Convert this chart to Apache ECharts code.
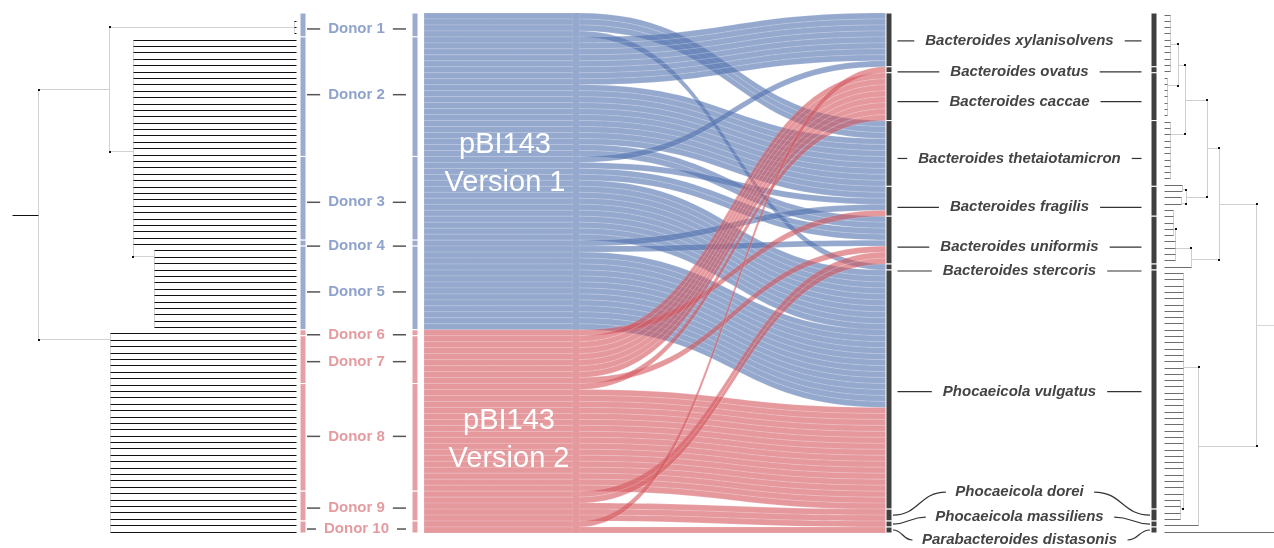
<!DOCTYPE html>
<html>
<head>
<meta charset="utf-8">
<title>pBI143 donors and hosts</title>
<script src="https://cdn.jsdelivr.net/npm/echarts@6/dist/echarts.min.js"></script>
<style>
  html, body { margin: 0; padding: 0; background: #fff; }
  #chart { width: 1274px; height: 548px; }
</style>
</head>
<body>
<div id="chart"></div>
<script>
// ---- data ----
const donors = ["Donor 1", "Donor 2", "Donor 3", "Donor 4", "Donor 5",
                "Donor 6", "Donor 7", "Donor 8", "Donor 9", "Donor 10"];
const donorVersion = [1, 1, 1, 1, 1, 2, 2, 2, 2, 2];
const donorStrains = [4, 20, 14, 1, 14, 1, 8, 18, 5, 2];
const donorLabelShift = [4, -2, 4, 3, 4, 2, 2, -1, 2, 2];

const species = [
  "Bacteroides xylanisolvens", "Bacteroides ovatus", "Bacteroides caccae",
  "Bacteroides thetaiotamicron", "Bacteroides fragilis", "Bacteroides uniformis",
  "Bacteroides stercoris", "Phocaeicola vulgatus", "Phocaeicola dorei",
  "Phocaeicola massiliens", "Parabacteroides distasonis"
];
const speciesStrains = [9, 1, 8, 11, 5, 8, 1, 40, 2, 1, 1];
// the bottom three labels sit off their bar, joined by a curved leader
const speciesLabelShift = [1, 2, 5, 5, 6, 7, 4, 2, -23, -7, 10];
const detachedLabel = [false, false, false, false, false, false, false, false, true, true, true];

// [donor index, species index, strains]
const flows = [
  [0, 3, 3], [0, 6, 1],
  [1, 0, 8], [1, 3, 8], [1, 4, 2], [1, 5, 2],
  [2, 0, 1], [2, 4, 1], [2, 5, 2], [2, 7, 10],
  [3, 4, 1],
  [4, 5, 1], [4, 7, 13],
  [5, 4, 1],
  [6, 2, 7], [6, 5, 1],
  [7, 2, 1], [7, 7, 17],
  [8, 5, 2], [8, 8, 2], [8, 9, 1],
  [9, 1, 1], [9, 10, 1]
];

const versionText = ["pBI143\nVersion 1", "pBI143\nVersion 2"];

// dendrograms: [distance, parent, firstLeaf, lastLeaf, attachLeafPos]
// parent -1 marks the (undrawn) edge of the picture
const leftTree = [
  [1.105, -1, -1, -1, 30.4],
  [1.0, 0, -1, -1, 30.4],
  [0.724, 1, -1, -1, 10.8],
  [0.004, 2, 0, 2, 1],
  [0.634, 2, 3, 35, 20.5],
  [0.549, 4, 36, 48, 36.9],
  [0.722, 1, 49, 80, 49.9]
];
const leftLeaves = 81;

const rightTree = [
  [1.183, -1, 82, 82, 49.2],
  [1.0, 0, -1, -1, 49.2],
  [0.595, 1, -1, -1, 30.0],
  [0.466, 2, -1, -1, 21.1],
  [0.229, 3, -1, -1, 13.5],
  [0.154, 4, -1, -1, 8.0],
  [0.068, 5, 0, 9, 4.65],
  [0.035, 5, 10, 16, 11.2],
  [0.068, 4, 17, 26, 18.9],
  [0.239, 3, -1, -1, 28.9],
  [0.194, 9, 27, 28, 27.7],
  [0.186, 9, 29, 30, 29.9],
  [0.294, 2, 40, 40, 38.8],
  [0.129, 12, 36, 39, 37.0],
  [0.100, 13, 31, 35, 34.0],
  [0.373, 1, 81, 81, 68.4],
  [0.207, 15, 41, 76, 55.9],
  [0.180, 16, 77, 80, 78.3]
];
const rightLeaves = 83;

// ---- styling ----
const FONT = '"Liberation Sans", Arial, sans-serif';
const ribbonColor = ["#4f6fad", "#d4555c"];
const barColor = ["#9aabcf", "#e4a1a5"];
const donorTextColor = ["#8fa3cc", "#e49ca0"];

const SK_LEFT = 300, SK_WIDTH = 857, SK_TOP = 13, SK_HEIGHT = 520, NODE_W = 6;
const colX = { A: 300, B: 412, C: 418, D: 573, E: 886, F: 1151 };
const lx = (x) => (x - SK_LEFT) / SK_WIDTH;
const SPECIES_LABEL_X = 1020;

const ctx = document.createElement("canvas").getContext("2d");
function textWidth(str, font) {
  ctx.font = font;
  return ctx.measureText(str).width;
}

// ---- sankey nodes and links ----
const nodes = [];
const links = [];
const barStyle = (color) => ({ color: color, borderColor: "#fff", borderWidth: 1 });

donors.forEach((name, i) => {
  const v = donorVersion[i] - 1;
  const tw = textWidth(name, "bold 15px " + FONT);
  const dash = Math.max(4, (99 - tw - 16) / 2);
  nodes.push({
    name: "A" + i, localX: lx(colX.A),
    itemStyle: barStyle(barColor[v]),
    label: {
      show: true, position: [57, "50%"], align: "center", verticalAlign: "middle",
      offset: [0, donorLabelShift[i]],
      formatter: "{l|}{t|" + name + "}{r|}",
      rich: {
        l: { width: dash, height: 1.5, backgroundColor: "#555" },
        r: { width: dash, height: 1.5, backgroundColor: "#555" },
        t: { color: donorTextColor[v], fontWeight: "bold", fontSize: 15, fontFamily: FONT, padding: [0, 8] }
      }
    }
  });
  nodes.push({ name: "B" + i, localX: lx(colX.B), itemStyle: barStyle(barColor[v]) });
  nodes.push({ name: "C" + i, localX: lx(colX.C), itemStyle: { opacity: 0 } });
  nodes.push({ name: "D" + i, localX: lx(colX.D), itemStyle: { color: ribbonColor[v], opacity: 0.6 } });

  links.push({ source: "A" + i, target: "B" + i, value: donorStrains[i], lineStyle: { opacity: 0 } });
  links.push({ source: "B" + i, target: "C" + i, value: donorStrains[i], lineStyle: { opacity: 0 } });
  for (let k = 0; k < donorStrains[i]; k++) {
    links.push({ source: "C" + i, target: "D" + i, value: 1,
      lineStyle: { color: ribbonColor[v], opacity: 0.6 } });
  }
});

// leader curves for labels that are moved off their bar
const total = speciesStrains.reduce((a, b) => a + b, 0);
const ky = SK_HEIGHT / total;
const leaders = [];
let acc = 0;

species.forEach((name, s) => {
  const tw = textWidth(name, "italic bold 15px " + FONT);
  const detached = detachedLabel[s];
  const dash = Math.max(4, (244 - tw - 22) / 2);
  const nodeY = SK_TOP + (acc + speciesStrains[s] / 2) * ky;
  acc += speciesStrains[s];
  if (detached) {
    const ly = nodeY + speciesLabelShift[s];
    const x0 = colX.E + NODE_W + 1, x1 = SPECIES_LABEL_X - tw / 2 - 10;
    const x3 = colX.F - 1, x2 = SPECIES_LABEL_X + tw / 2 + 10;
    leaders.push({ a: [x0, nodeY], b: [x1, ly] }, { a: [x3, nodeY], b: [x2, ly] });
  }
  nodes.push({
    name: "E" + s, localX: lx(colX.E),
    itemStyle: barStyle("#404040"),
    label: {
      show: true, position: [SPECIES_LABEL_X - colX.E, "50%"], align: "center", verticalAlign: "middle",
      offset: [0, speciesLabelShift[s]],
      formatter: detached ? "{t|" + name + "}" : "{l|}{t|" + name + "}{r|}",
      rich: {
        l: { width: dash, height: 1.2, backgroundColor: "#333" },
        r: { width: dash, height: 1.2, backgroundColor: "#333" },
        t: { color: "#444", fontStyle: "italic", fontWeight: "bold", fontSize: 15, fontFamily: FONT, padding: [0, 11] }
      }
    }
  });
  nodes.push({ name: "F" + s, localX: lx(colX.F), itemStyle: barStyle("#404040") });
  links.push({ source: "E" + s, target: "F" + s, value: speciesStrains[s], lineStyle: { opacity: 0 } });
});

flows.forEach(([d, s, n]) => {
  const v = donorVersion[d] - 1;
  for (let k = 0; k < n; k++) {
    links.push({ source: "D" + d, target: "E" + s, value: 1,
      lineStyle: { color: ribbonColor[v], opacity: 0.6 } });
  }
});

// ---- dendrogram segments: [x1, y1, x2, y2, kind] kind 0 leaf, 1 branch, 2 stub, 3 dot ----
function treeSegments(tree) {
  const branch = [], leaf = [], dots = [];
  tree.forEach((n, i) => {
    const [d, parent, first, last, at] = n;
    const ys = [];
    if (first >= 0) {
      for (let k = first; k <= last; k++) { leaf.push([d, k, 0, k, 0]); ys.push(k); }
    }
    tree.forEach((c) => { if (c[1] === i) ys.push(c[4]); });
    if (parent >= 0) {
      if (ys.length > 1) branch.push([d, Math.min(...ys), d, Math.max(...ys), 1]);
      const stub = tree[parent][1] < 0;
      branch.push([tree[parent][0], at, d, at, stub ? 2 : 1]);
      if (!stub) dots.push([tree[parent][0], at, tree[parent][0], at, 3]);
    }
  });
  return branch.concat(leaf, dots);
}

function dendroSeries(tree, idx, colors) {
  return {
    type: "custom", xAxisIndex: idx, yAxisIndex: idx, silent: true,
    data: treeSegments(tree),
    encode: { x: [0, 2], y: [1, 3] },
    renderItem(params, api) {
      const a = api.coord([api.value(0), api.value(1)]);
      const b = api.coord([api.value(2), api.value(3)]);
      const kind = api.value(4);
      if (kind === 3) {
        return { type: "rect", shape: { x: Math.round(a[0]) - 1, y: Math.round(a[1]) - 1, width: 2, height: 2 },
                 style: { fill: "#111" } };
      }
      const snap = (p) => Math.floor(p) + 0.5;
      return { type: "line",
               shape: { x1: snap(a[0]), y1: snap(a[1]), x2: snap(b[0]), y2: snap(b[1]) },
               style: { stroke: colors[kind], lineWidth: 1 } };
    }
  };
}

const graphics = versionText.map((t, i) => ({
  type: "text", z: 100,
  x: i === 0 ? 505 : 509, y: i === 0 ? 164 : 440,
  style: { text: t, fill: "#fff", fontSize: 29, fontFamily: FONT,
           align: "center", verticalAlign: "middle", lineHeight: 38 }
}));
leaders.forEach((l) => {
  const mx = (l.a[0] + l.b[0]) / 2;
  graphics.push({
    type: "bezierCurve", z: 100,
    shape: { x1: l.a[0], y1: l.a[1], cpx1: mx, cpy1: l.a[1], cpx2: mx, cpy2: l.b[1], x2: l.b[0], y2: l.b[1] },
    style: { stroke: "#333", lineWidth: 1.2, fill: null }
  });
});

const chart = echarts.init(document.getElementById("chart"));
chart.setOption({
  animation: false,
  backgroundColor: "#fff",
  grid: [
    { left: 12, top: 21, width: 284, height: 511 },
    { left: 1164, top: 15, width: 110, height: 517 }
  ],
  xAxis: [
    { gridIndex: 0, type: "value", min: 0, max: 1.105, inverse: true, show: false },
    { gridIndex: 1, type: "value", min: 0, max: 1.183, show: false }
  ],
  yAxis: [
    { gridIndex: 0, type: "value", min: 0, max: leftLeaves - 1, inverse: true, show: false },
    { gridIndex: 1, type: "value", min: 0, max: rightLeaves - 1, inverse: true, show: false }
  ],
  series: [
    dendroSeries(leftTree, 0, ["#111", "#d2d2d2", "#111"]),
    dendroSeries(rightTree, 1, ["#6e6e6e", "#cfcfcf", "#d6d6d6"]),
    {
      type: "sankey",
      left: SK_LEFT, right: 1274 - SK_LEFT - SK_WIDTH, top: SK_TOP, bottom: 548 - SK_TOP - SK_HEIGHT,
      nodeWidth: NODE_W,
      nodeGap: 0,
      layoutIterations: 0,
      draggable: false,
      silent: true,
      emphasis: { disabled: true },
      label: { show: false },
      lineStyle: { curveness: 0.5, borderColor: "rgba(255,255,255,0.5)", borderWidth: 0.5 },
      data: nodes,
      links: links
    }
  ],
  graphic: graphics
});
</script>
</body>
</html>
